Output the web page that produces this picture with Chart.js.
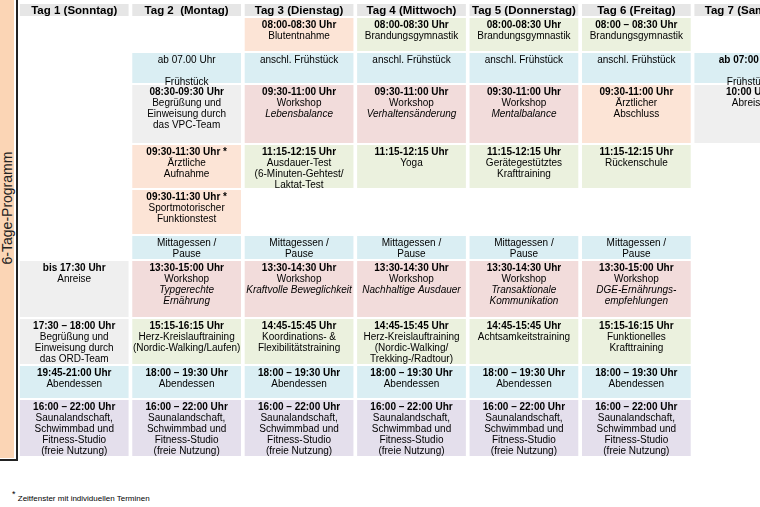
<!DOCTYPE html>
<html>
<head>
<meta charset="utf-8">
<script src="https://cdn.jsdelivr.net/npm/chart.js@4"></script>
<style>
  body { margin: 0; width: 760px; height: 507px; overflow: hidden; background: #fff; font-family: 'Liberation Sans', Arial, sans-serif; position: relative; }
  #side { position: absolute; left: 0; top: 0; width: 14px; height: 458px; background: #fbd5b5; }
  #frame { position: absolute; left: 0; top: 0; width: 16px; height: 459px; border-right: 2px solid #222; border-bottom: 2px solid #222; }
  #sideLabel { position: absolute; left: -93px; top: 200px; width: 200px; text-align: center; transform: rotate(-90deg); font-size: 14px; color: #222; }
  #note { position: absolute; left: 12px; top: 489px; font-size: 8px; color: #000; }
  #note sup { font-size: 9px; }
  canvas { position: absolute; left: 0; top: 0; }
</style>
</head>
<body>
<div id="side"></div>
<div id="frame"></div>
<div id="sideLabel">6-Tage-Programm</div>
<div id="note"><sup>*</sup> Zeitfenster mit individuellen Terminen</div>
<canvas id="plan" width="805" height="507"></canvas>
<script>
// Spalten (Tage)
const days = ['Tag 1 (Sonntag)', 'Tag 2  (Montag)', 'Tag 3 (Dienstag)', 'Tag 4 (Mittwoch)', 'Tag 5 (Donnerstag)', 'Tag 6 (Freitag)', 'Tag 7 (Samstag)'];
// Zeilenhöhen (Kopf + 10 Zeilen)
const rowHeights = [14, 35, 32, 60, 45, 46, 25, 58, 47, 34, 58];

const sauna = ['b:16:00 – 22:00 Uhr', 'Saunalandschaft,', 'Schwimmbad und', 'Fitness-Studio', '(freie Nutzung)'];
const dinner = ['b:18:00 – 19:30 Uhr', 'Abendessen'];
const lunch = ['Mittagessen /', 'Pause'];
const gym = ['b:08:00-08:30 Uhr', 'Brandungsgymnastik'];

// [Tag, Zeile, Text]
const peachCells = [
  [2, 1, ['b:08:00-08:30 Uhr', 'Blutentnahme']],
  [1, 4, ['b:09:30-11:30 Uhr *', 'Ärztliche', 'Aufnahme']],
  [1, 5, ['b:09:30-11:30 Uhr *', 'Sportmotorischer', 'Funktionstest']],
  [5, 3, ['b:09:30-11:00 Uhr', 'Ärztlicher', 'Abschluss']]
];
const greenCells = [
  [3, 1, gym], [4, 1, gym], [5, 1, ['b:08:00 – 08:30 Uhr', 'Brandungsgymnastik']],
  [2, 4, ['b:11:15-12:15 Uhr', 'Ausdauer-Test', '(6-Minuten-Gehtest/', 'Laktat-Test']],
  [3, 4, ['b:11:15-12:15 Uhr', 'Yoga']],
  [4, 4, ['b:11:15-12:15 Uhr', 'Gerätegestütztes', 'Krafttraining']],
  [5, 4, ['b:11:15-12:15 Uhr', 'Rückenschule']],
  [1, 8, ['b:15:15-16:15 Uhr', 'Herz-Kreislauftraining', '(Nordic-Walking/Laufen)']],
  [2, 8, ['b:14:45-15:45 Uhr', 'Koordinations- &', 'Flexibilitätstraining']],
  [3, 8, ['b:14:45-15:45 Uhr', 'Herz-Kreislauftraining', '(Nordic-Walking/', 'Trekking-/Radtour)']],
  [4, 8, ['b:14:45-15:45 Uhr', 'Achtsamkeitstraining']],
  [5, 8, ['b:15:15-16:15 Uhr', 'Funktionelles', 'Krafttraining']]
];
const blueCells = [
  [1, 2, ['ab 07.00 Uhr', '', 'Frühstück']],
  [2, 2, ['anschl. Frühstück']], [3, 2, ['anschl. Frühstück']], [4, 2, ['anschl. Frühstück']], [5, 2, ['anschl. Frühstück']],
  [6, 2, ['b:ab 07:00 Uhr', '', 'Frühstück']],
  [1, 6, lunch], [2, 6, lunch], [3, 6, lunch], [4, 6, lunch], [5, 6, lunch],
  [0, 9, ['b:19:45-21:00 Uhr', 'Abendessen']],
  [1, 9, dinner], [2, 9, dinner], [3, 9, dinner], [4, 9, dinner], [5, 9, dinner]
];
const pinkCells = [
  [2, 3, ['b:09:30-11:00 Uhr', 'Workshop', 'i:Lebensbalance']],
  [3, 3, ['b:09:30-11:00 Uhr', 'Workshop', 'i:Verhaltensänderung']],
  [4, 3, ['b:09:30-11:00 Uhr', 'Workshop', 'i:Mentalbalance']],
  [1, 7, ['b:13:30-15:00 Uhr', 'Workshop', 'i:Typgerechte', 'i:Ernährung']],
  [2, 7, ['b:13:30-14:30 Uhr', 'Workshop', 'i:Kraftvolle Beweglichkeit']],
  [3, 7, ['b:13:30-14:30 Uhr', 'Workshop', 'i:Nachhaltige Ausdauer']],
  [4, 7, ['b:13:30-14:30 Uhr', 'Workshop', 'i:Transaktionale', 'i:Kommunikation']],
  [5, 7, ['b:13:30-15:00 Uhr', 'Workshop', 'i:DGE-Ernährungs-', 'i:empfehlungen']]
];
const greyCells = [
  [1, 3, ['b:08:30-09:30 Uhr', 'Begrüßung und', 'Einweisung durch', 'das VPC-Team']],
  [0, 7, ['b:bis 17:30 Uhr', 'Anreise']],
  [0, 8, ['b:17:30 – 18:00 Uhr', 'Begrüßung und', 'Einweisung durch', 'das ORD-Team']],
  [6, 3, ['b:10:00 Uhr', 'Abreise']]
];
const purpleCells = [0, 1, 2, 3, 4, 5].map(d => [d, 10, sauna]);
const headerCells = days.map((d, i) => [i, 0, ['h:' + d]]);

// Zeilengrenzen aus den Höhen
const edges = [0];
rowHeights.forEach(h => edges.push(edges[edges.length - 1] + h));

function toPoints(cells) {
  return cells.map(c => ({ x: days[c[0]], y: [edges[c[1]], edges[c[1] + 1]], lines: c[2] }));
}
function ds(cells, color) {
  return {
    data: toPoints(cells),
    backgroundColor: color,
    borderColor: '#fff',
    borderWidth: 1,
    borderSkipped: false,
    grouped: false,
    categoryPercentage: 1,
    barPercentage: 0.985
  };
}

// Text in die Zellen schreiben
const cellText = {
  id: 'cellText',
  afterDatasetsDraw(chart) {
    const ctx = chart.ctx;
    ctx.save();
    ctx.textAlign = 'center';
    ctx.textBaseline = 'middle';
    ctx.fillStyle = '#000';
    chart.data.datasets.forEach((d, di) => {
      chart.getDatasetMeta(di).data.forEach((bar, i) => {
        const lines = d.data[i].lines;
        const top = Math.min(bar.y, bar.base);
        const bottom = Math.max(bar.y, bar.base);
        lines.forEach((ln, k) => {
          let font = "10px 'Liberation Sans', Arial, sans-serif";
          let txt = ln;
          let y = top + 8 + k * 11;
          if (ln.startsWith('b:')) { font = "bold 10px 'Liberation Sans', Arial, sans-serif"; txt = ln.slice(2); }
          else if (ln.startsWith('i:')) { font = "italic 10px 'Liberation Sans', Arial, sans-serif"; txt = ln.slice(2); }
          else if (ln.startsWith('h:')) { font = "bold 11.5px 'Liberation Sans', Arial, sans-serif"; txt = ln.slice(2); y = (top + bottom) / 2 + 1; }
          ctx.font = font;
          ctx.fillText(txt, bar.x, y);
        });
      });
    });
    ctx.restore();
  }
};

new Chart(document.getElementById('plan'), {
  type: 'bar',
  data: {
    labels: days,
    datasets: [
      ds(headerCells, '#e6e6e6'),
      ds(peachCells, '#fce4d6'),
      ds(greenCells, '#ebf1de'),
      ds(blueCells, '#daeef3'),
      ds(pinkCells, '#f2dcdb'),
      ds(greyCells, '#efefef'),
      ds(purpleCells, '#e4dfec')
    ]
  },
  options: {
    responsive: false,
    animation: false,
    devicePixelRatio: 1,
    layout: { padding: { left: 18, top: 3, right: 0, bottom: 50 } },
    plugins: { legend: { display: false }, tooltip: { enabled: false } },
    scales: {
      x: { display: false, stacked: false, grid: { display: false } },
      y: { display: false, reverse: true, min: 0, max: edges[edges.length - 1], grid: { display: false } }
    }
  },
  plugins: [cellText]
});
</script>
</body>
</html>
